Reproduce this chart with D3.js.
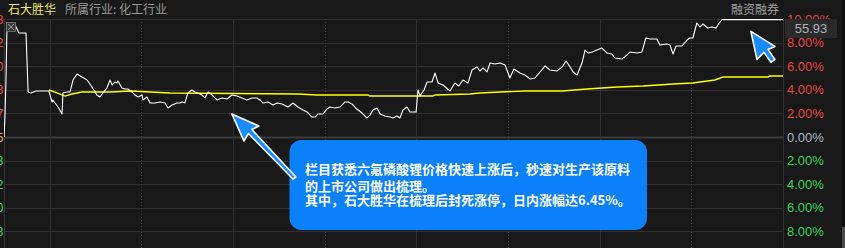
<!DOCTYPE html>
<html><head><meta charset="utf-8">
<script src="https://cdn.jsdelivr.net/npm/d3@7"></script>
<style>
html,body{margin:0;padding:0;background:#181818;overflow:hidden}
svg{display:block}
</style></head><body>
<svg id="c" width="845" height="248"></svg>
<script>
// ---------- data ----------
const stockName = "石大胜华";
const industry = "所属行业: 化工行业";
const marginLabel = "融资融券";
const lastPrice = "55.93";
const pctTicks = [10, 8, 6, 4, 2, 0, -2, -4, -6, -8];
const leftPriceLabels = ["55.93","54.92","53.90","52.88","51.87","50.85","49.83","48.82","47.80","46.78"];
const timeGridSolid = [15, 75, 135, 195];
const timeGridDotted = [45, 105, 165, 225];
const priceT = [0,0.3,0.65,1.0,3.3,4.9,7.2,7.9,8.8,10.5,14.7,15.7,16.0,16.7,17.7,19.0,19.3,20.6,21.6,22.6,23.9,25.5,27.2,28.8,30.4,31.4,32.4,33.7,34.7,35.4,36.3,37.0,37.3,38.6,39.6,40.6,41.9,42.9,43.9,45.2,45.5,46.8,47.8,49.4,51.1,52.7,53.7,55.0,56.6,57.6,58.3,59.2,60.2,61.5,62.5,63.5,64.8,65.8,66.8,68.1,69.7,71.4,73.0,74.6,76.3,77.9,79.5,81.2,82.8,83.8,84.8,86.4,88.1,89.4,91.0,93.0,94.6,96.2,97.9,99.2,100.8,101.8,102.8,104.4,105.7,106.7,108.3,110.0,111.6,112.6,113.9,115.5,117.2,118.8,119.8,120.8,122.1,123.1,124.7,126.4,127.3,128.6,129.6,130.6,131.9,132.9,134.9,135.5,136.2,136.8,137.5,138.5,140.1,141.1,142.1,143.7,146.0,147.6,148.9,150.2,151.9,153.2,154.8,155.8,156.8,158.1,159.1,160.7,162.4,164.0,165.6,166.9,168.9,170.5,172.2,173.8,175.5,177.1,178.7,181.0,182.7,184.0,185.3,186.3,187.6,189.2,190.2,191.2,192.5,194.1,195.7,197.4,199.0,200.0,202.3,203.9,204.9,207.2,208.8,210.1,211.5,213.7,214.7,217.0,218.0,219.0,220.0,221.9,223.6,224.5,225.5,226.8,227.8,228.8,230.4,231.7,233.1,233.7,235.0,255];
const pricePct = [0,1.61,4.83,9.66,9.66,8.81,8.81,3.81,3.73,3.90,3.90,2.97,3.14,2.88,2.54,1.95,3.73,3.81,3.81,4.83,5.34,5.08,4.83,4.24,3.56,3.39,3.73,4.15,4.83,4.41,4.66,4.58,4.75,4.15,4.07,4.07,3.81,3.56,3.39,3.56,3.14,3.39,2.88,2.88,2.97,2.88,2.46,2.71,2.88,2.88,2.97,2.88,3.73,3.98,3.81,3.73,3.56,3.31,3.81,3.56,3.14,3.31,3.22,3.56,3.47,3.31,3.14,3.31,3.31,3.14,2.88,2.97,2.71,2.88,2.80,2.54,2.88,2.54,2.29,2.12,1.69,1.69,1.95,1.95,2.37,2.54,2.46,2.54,2.97,2.97,2.80,2.37,2.03,1.61,1.86,2.29,2.46,1.95,1.78,1.69,1.61,1.78,1.61,2.29,2.54,2.12,2.12,3.98,3.47,3.73,3.98,4.66,4.66,5.42,4.58,4.41,3.90,4.58,4.32,4.83,4.58,5.68,5.93,5.59,5.85,5.51,6.27,6.19,6.27,6.10,5.00,5.76,5.42,5.25,4.92,5.00,5.51,6.02,5.68,5.59,5.93,6.44,5.93,5.51,5.25,6.27,7.37,7.12,7.20,7.37,7.54,7.12,7.03,6.69,6.61,6.95,7.20,7.12,7.20,8.39,8.31,8.31,7.80,7.88,7.80,7.03,7.71,7.71,8.22,8.39,8.39,9.66,9.32,9.58,9.24,9.32,9.24,9.49,9.95,9.95];
const avgT = [14.7,16.7,20.0,22.3,25.5,34.7,41.2,47.8,54.3,95.9,102.5,119.1,119.8,140.4,141.1,152.5,155.8,162.4,170.5,182.7,190.8,200.7,209.2,219.0,225.5,227.8,232.7,235.4,250.1,250.7,255];
const avgPct = [3.98,3.81,3.47,3.64,3.81,3.81,3.90,3.81,3.73,3.64,3.56,3.56,3.47,3.47,3.56,3.64,3.73,3.81,3.90,3.90,4.07,4.24,4.32,4.49,4.58,4.66,4.83,5.08,5.08,5.17,5.17];
const calloutLines = [
  "栏目获悉六氟磷酸锂价格快速上涨后，秒速对生产该原料",
  "的上市公司做出梳理。",
  "其中，石大胜华在梳理后封死涨停，日内涨幅达6.45%。"
];
const arrowAnchors = [{t: 74.6, p: 1.95, kind: "long"}, {t: 244.5, p: 8.95, kind: "short"}];

// ---------- layout ----------
const W = 845, H = 248;
const plotL = 4, plotR = 783, plotT = 19;
const RED = "#e8433f", GREEN = "#34d25a", NEUTRAL = "#a9b9c9";

const svg = d3.select("#c");
svg.append("rect").attr("width", W).attr("height", H).attr("fill", "#181818");

const x = d3.scaleLinear().domain([0, 255]).range([plotL, plotR]);
const y = d3.scaleLinear().domain([10, -10]).range([plotT, 255]);

// grid
const grid = svg.append("g");
grid.selectAll(".hg").data(pctTicks).join("line")
  .attr("x1", plotL).attr("x2", plotR)
  .attr("y1", d => Math.round(y(d)) + 0.5).attr("y2", d => Math.round(y(d)) + 0.5)
  .attr("stroke", d => d === 0 ? "#3a3a3a" : "#303030")
  .attr("stroke-width", d => d === 0 ? 2 : 1);
grid.selectAll(".vs").data(timeGridSolid).join("line")
  .attr("x1", d => Math.round(x(d)) + 0.5).attr("x2", d => Math.round(x(d)) + 0.5)
  .attr("y1", plotT).attr("y2", H).attr("stroke", "#303030");
grid.selectAll(".vd").data(timeGridDotted).join("line")
  .attr("x1", d => Math.round(x(d)) + 0.5).attr("x2", d => Math.round(x(d)) + 0.5)
  .attr("y1", plotT).attr("y2", H).attr("stroke", "#3c3c3c").attr("stroke-dasharray", "1,2");
// borders
svg.append("line").attr("x1", plotL + 0.5).attr("x2", plotL + 0.5).attr("y1", plotT).attr("y2", H).attr("stroke", "#3a3a3a");
svg.append("line").attr("x1", plotR + 0.5).attr("x2", plotR + 0.5).attr("y1", plotT).attr("y2", H).attr("stroke", "#303030");
// right strip / scrollbar
svg.append("rect").attr("x", 842).attr("y", 0).attr("width", 3).attr("height", H).attr("fill", "#0f0f0f");
svg.append("rect").attr("x", 842).attr("y", 227).attr("width", 3).attr("height", 21).attr("fill", "#4a4a4a");

// left (cut-off) price labels
svg.append("g").selectAll("text").data(pctTicks).join("text")
  .attr("x", 3.5).attr("y", d => y(d)).attr("dy", "0.35em")
  .attr("text-anchor", "end")
  .attr("font-family", "Liberation Sans, Arial, sans-serif").attr("font-size", 13)
  .attr("fill", d => d > 0 ? RED : d < 0 ? GREEN : "#d9a25a")
  .text((d, i) => leftPriceLabels[i]);

// lines
const clip = svg.append("clipPath").attr("id", "pc").append("rect")
  .attr("x", plotL).attr("y", 0).attr("width", plotR - plotL).attr("height", H);
const line = d3.line().x(d => x(d[0])).y(d => y(d[1]));
svg.append("path").attr("clip-path", "url(#pc)")
  .attr("d", line(avgT.map((t, i) => [t, avgPct[i]])))
  .attr("fill", "none").attr("stroke", "#ffff00").attr("stroke-width", 1.4);
svg.append("path").attr("clip-path", "url(#pc)")
  .attr("d", line(priceT.map((t, i) => [t, pricePct[i]])))
  .attr("fill", "none").attr("stroke", "#ffffff").attr("stroke-width", 1.1)
  .attr("stroke-linejoin", "round");

// high-point marker
const mk = svg.append("g").attr("transform", `translate(${x(2.3)},${y(9.66) + 4})`);
mk.append("rect").attr("x", -4.5).attr("y", -4.5).attr("width", 9).attr("height", 9).attr("fill", "#3a3a3a").attr("stroke", "#777").attr("stroke-width", 0.8);
mk.append("path").attr("d", "M-3,-3L3,3M3,-3L-3,3").attr("stroke", "#999").attr("stroke-width", 1);

// right axis
const axis = d3.axisRight(y).tickValues(pctTicks).tickSize(0).tickPadding(4)
  .tickFormat(d => Math.abs(d).toFixed(2) + "%");
const ag = svg.append("g").attr("transform", `translate(${plotR},0)`).call(axis);
ag.select(".domain").remove();
ag.selectAll("text")
  .attr("font-family", "Liberation Sans, Arial, sans-serif").attr("font-size", 13)
  .attr("fill", d => d > 0 ? RED : d < 0 ? GREEN : NEUTRAL);

// last price box
svg.append("rect").attr("x", 785).attr("y", 19).attr("width", 52).attr("height", 19).attr("fill", "#2a2a2a");
svg.append("text").attr("x", 811).attr("y", 28.5).attr("dy", "0.35em").attr("text-anchor", "middle")
  .attr("font-family", "Liberation Sans, Arial, sans-serif").attr("font-size", 13)
  .attr("fill", "#a8b2bc").text(lastPrice);

// header texts
const cjk = "'Noto Sans CJK SC', 'Noto Sans', sans-serif";
svg.append("text").attr("x", 8).attr("y", 9.5).attr("dy", "0.35em")
  .attr("font-family", cjk).attr("font-size", 12).attr("fill", "#f2e46a").text(stockName);
svg.append("text").attr("x", 65).attr("y", 9.5).attr("dy", "0.35em")
  .attr("font-family", cjk).attr("font-size", 12).attr("fill", "#9a9a9a").text(industry);
svg.append("text").attr("x", 779).attr("y", 9.5).attr("dy", "0.35em").attr("text-anchor", "end")
  .attr("font-family", cjk).attr("font-size", 12).attr("fill", "#a0a0a0").text(marginLabel);

// callout box
svg.append("rect").attr("x", 289.5).attr("y", 140).attr("width", 357.5).attr("height", 90)
  .attr("rx", 12).attr("fill", "#0a80fb");
svg.append("g").selectAll("text").data(calloutLines).join("text")
  .attr("x", 305).attr("y", (d, i) => [169.5, 186, 200][i]).attr("dy", "0.35em")
  .attr("font-family", cjk).attr("font-size", 13).attr("font-weight", "bold")
  .attr("fill", "#ffffff").text(d => d);

// arrows
const shapes = {
  long: "M0,0 L27,12 L20,15.5 L64,63 L61,65 L16.5,19.5 L12,27 Z",
  short: "M0,0 L24,15 L17,18 L24,28 L20,31 L13,21 L6,28 Z"
};
svg.append("g").selectAll("path").data(arrowAnchors).join("path")
  .attr("transform", d => `translate(${x(d.t)},${y(d.p)})`)
  .attr("d", d => shapes[d.kind])
  .attr("fill", "#1a8cff").attr("stroke", "#ffffff").attr("stroke-width", 1.6)
  .attr("stroke-linejoin", "round");
</script>
</body></html>
